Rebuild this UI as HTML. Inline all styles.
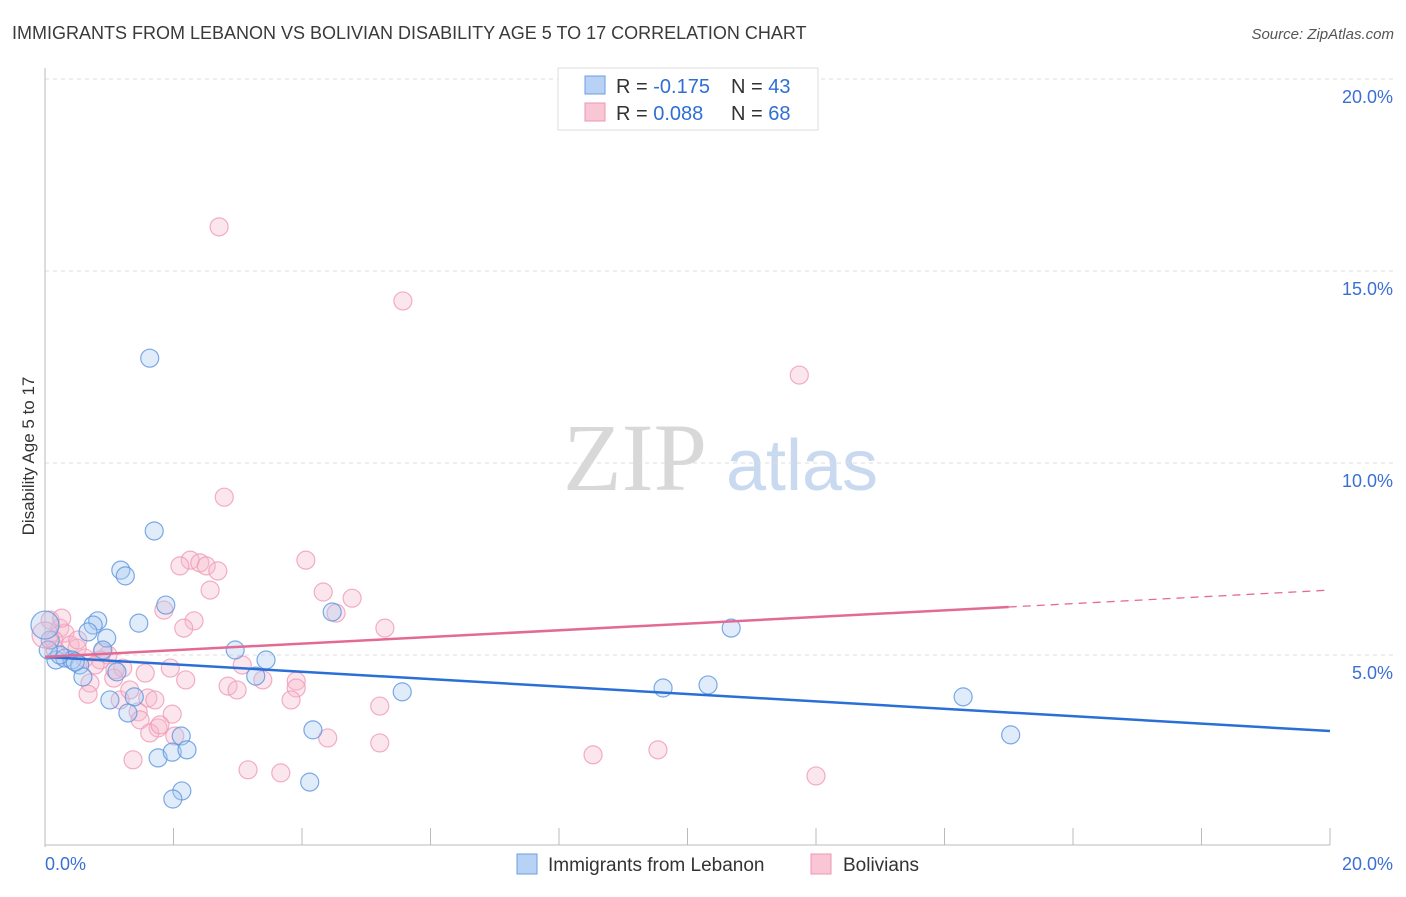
<!DOCTYPE html>
<html><head><meta charset="utf-8"><style>
body{margin:0;background:#fff;font-family:"Liberation Sans",sans-serif}
</style></head><body>
<svg width="1406" height="892" xmlns="http://www.w3.org/2000/svg" font-family="Liberation Sans, sans-serif">
<text x="12" y="39" font-size="18" fill="#3a3a3a">IMMIGRANTS FROM LEBANON VS BOLIVIAN DISABILITY AGE 5 TO 17 CORRELATION CHART</text>
<text x="1394" y="39" font-size="15" fill="#555" text-anchor="end" font-style="italic">Source: ZipAtlas.com</text>
<g>
<text x="635" y="490" font-size="96" font-family="Liberation Serif, serif" fill="#d8d8d8" text-anchor="middle">ZIP</text>
<text x="802" y="490" font-size="72" fill="#c9d9f0" text-anchor="middle">atlas</text>
</g>
<g id="grid"></g><g id="axes"></g><g id="marks"></g>
<text transform="translate(34,456) rotate(-90)" font-size="17" fill="#333" text-anchor="middle">Disability Age 5 to 17</text>
<g>
<rect x="558" y="68" width="260" height="62" fill="#fff" stroke="#ddd"/>
<rect x="585" y="76" width="20" height="18" fill="#b8d2f5" stroke="#6c9de0"/>
<rect x="585" y="103" width="20" height="18" fill="#f9c6d6" stroke="#ee95b2"/>
<text x="616" y="93" font-size="20" fill="#333">R = <tspan fill="#2f6fd3">-0.175</tspan><tspan x="731">N = </tspan><tspan fill="#2f6fd3">43</tspan></text>
<text x="616" y="120" font-size="20" fill="#333">R = <tspan fill="#2f6fd3"> 0.088</tspan><tspan x="731">N = </tspan><tspan fill="#2f6fd3">68</tspan></text>
</g>
<g>
<rect x="517" y="854" width="20" height="20" fill="#b8d2f5" stroke="#6c9de0"/>
<text x="548" y="871" font-size="19" fill="#333">Immigrants from Lebanon</text>
<rect x="811" y="854" width="20" height="20" fill="#f9c6d6" stroke="#ee95b2"/>
<text x="843" y="871" font-size="19" fill="#333">Bolivians</text>
</g>
</svg>
<script>
const blueX=[1.63,1.70,1.18,1.25,1.88,1.46,0.82,0.75,0.96,0.67,0.90,2.96,3.44,0.17,0.31,0.42,0.54,0.59,1.12,3.28,5.56,1.01,1.39,1.29,4.17,2.12,1.76,1.98,2.21,4.12,2.13,1.99,4.47,9.62,10.32,10.68,14.29,15.03,0.08,0.23,0.47,0.05];
const blueY=[12.73,8.23,7.21,7.06,6.30,5.83,5.89,5.78,5.44,5.60,5.13,5.13,4.87,4.87,4.92,4.87,4.74,4.43,4.56,4.45,4.04,3.83,3.91,3.49,3.05,2.89,2.32,2.47,2.53,1.69,1.46,1.25,6.12,4.14,4.22,5.70,3.91,2.92,5.39,5.0,4.82,5.13];
const pinkX=[2.71,5.57,11.74,2.79,4.06,2.26,2.10,2.41,2.51,2.69,2.57,4.33,4.78,1.85,2.32,2.16,4.53,5.29,0.23,0.31,0.14,0.39,0.50,0.62,0.98,0.86,1.21,1.95,1.56,3.07,1.07,2.19,2.85,2.99,3.39,3.91,3.91,0.70,0.67,1.17,1.60,1.71,3.83,5.21,1.45,1.48,1.98,1.76,1.63,2.02,4.40,5.21,1.37,3.16,3.67,8.53,9.54,12.0,0.08,0.16,0.78,1.32,1.79,1.09,0.51,0.26,0.89];
const pinkY=[16.15,14.22,12.29,9.11,7.47,7.47,7.32,7.40,7.32,7.19,6.69,6.64,6.48,6.17,5.89,5.70,6.09,5.70,5.70,5.57,5.39,5.26,5.18,4.92,5.0,4.87,4.66,4.66,4.53,4.74,4.40,4.35,4.19,4.09,4.35,4.32,4.14,4.27,3.98,3.83,3.88,3.83,3.83,3.67,3.52,3.31,3.46,3.10,2.97,2.89,2.84,2.71,2.27,2.01,1.93,2.40,2.53,1.85,5.91,5.13,4.74,4.09,3.18,4.61,5.39,5.96,5.08];
const bigBlue=[0,5.78], bigPink=[0,5.52];
const blueTrend=[[0,4.95],[20,3.02]];
const pinkTrend=[[0,4.95],[15,6.25],[20,6.69]];
const yTicks=[5,10,15,20], yLabels=["5.0%","10.0%","15.0%","20.0%"];
const xTicks=[0,2,4,6,8,10,12,14,16,18,20];
const NS="http://www.w3.org/2000/svg";
const sx=v=>45+v*64.25, sy=v=>847-v*38.4;
function mk(p,t,a){const e=document.createElementNS(NS,t);for(const k in a)e.setAttribute(k,a[k]);p.appendChild(e);return e;}
const g=document.getElementById('grid'),ax=document.getElementById('axes'),m=document.getElementById('marks');
yTicks.forEach((t,i)=>{
 const l=mk(g,'line',{x1:45,x2:1393,y1:sy(t),y2:sy(t),stroke:'#ddd','stroke-dasharray':'4,4'});
 
 
 const tx=mk(ax,'text',{x:1393,y:sy(t)+24,'font-size':18,fill:'#3b6fd4','text-anchor':'end'});tx.textContent=yLabels[i];
 
 
});
const yl=mk(ax,'line',{x1:45,x2:45,y1:68,y2:847,stroke:'#bbb'});


const xl=mk(ax,'line',{x1:45,x2:1330,y1:845,y2:845,stroke:'#bbb'});


xTicks.forEach(t=>{const l=mk(ax,'line',{x1:sx(t),x2:sx(t),y1:828,y2:845,stroke:'#bbb'});
 
 });
[[0,'start',45],[20,'end',1393]].forEach(([v,a,x])=>{const t=mk(ax,'text',{x:x,y:870,'font-size':18,fill:'#3b6fd4','text-anchor':a});t.textContent=v.toFixed(1)+'%';
 
 });
function dot(x,y,r,f,s,n){const c=mk(m,'circle',{cx:sx(x),cy:sy(y),r:r,fill:f,'fill-opacity':0.35,stroke:s,'stroke-width':1.2,'stroke-opacity':0.8});
 
 }
pinkX.forEach((x,i)=>dot(x,pinkY[i],9,'#f7b7cc','#ef9ab8','bolivians-point'));
blueX.forEach((x,i)=>dot(x,blueY[i],9,'#a9c8f2','#5b95e0','lebanon-point'));
dot(bigPink[0],bigPink[1],13,'#f7b7cc','#ef9ab8','bolivians-point');
dot(bigBlue[0],bigBlue[1],14,'#a9c8f2','#5b95e0','lebanon-point');
const bt=mk(m,'line',{x1:sx(blueTrend[0][0]),y1:sy(blueTrend[0][1]),x2:sx(blueTrend[1][0]),y2:sy(blueTrend[1][1]),stroke:'#2a6fd6','stroke-width':2.5});


const pt=mk(m,'line',{x1:sx(pinkTrend[0][0]),y1:sy(pinkTrend[0][1]),x2:sx(pinkTrend[1][0]),y2:sy(pinkTrend[1][1]),stroke:'#e46a96','stroke-width':2.5});


const pd=mk(m,'line',{x1:sx(pinkTrend[1][0]),y1:sy(pinkTrend[1][1]),x2:sx(pinkTrend[2][0]),y2:sy(pinkTrend[2][1]),stroke:'#e46a96','stroke-width':1.3,'stroke-dasharray':'8,6'});


</script>
</body></html>
